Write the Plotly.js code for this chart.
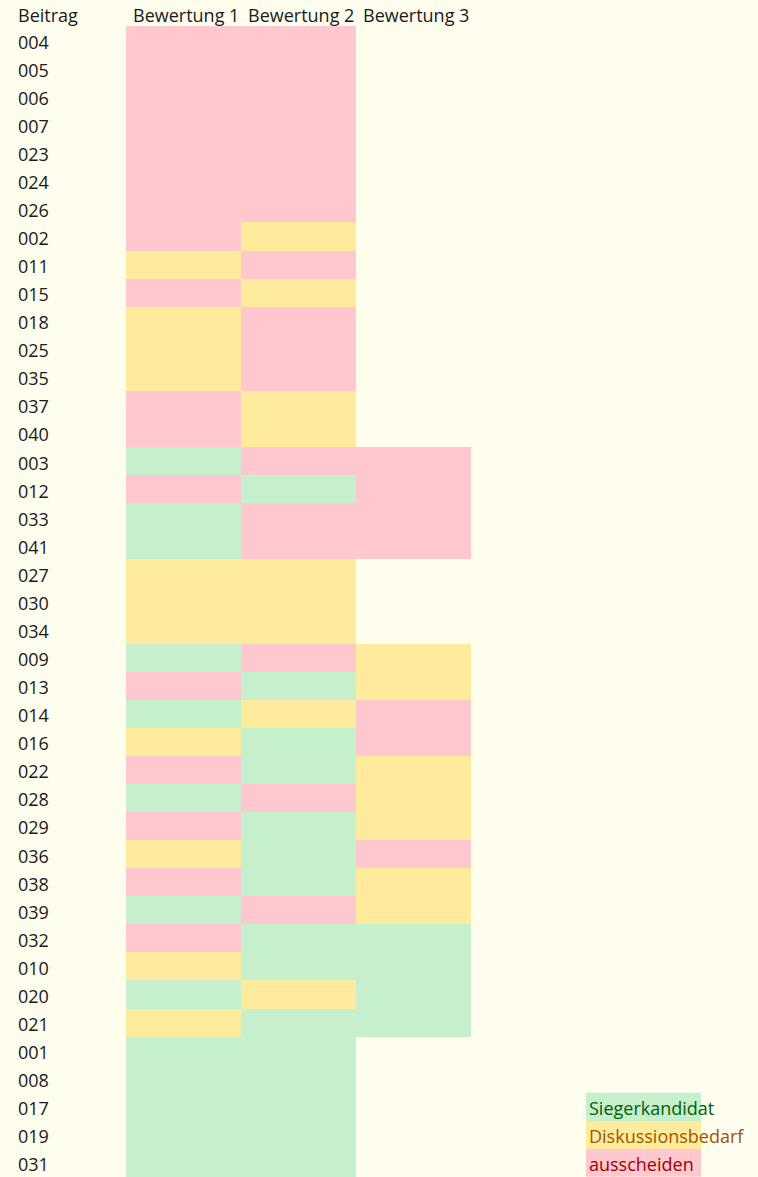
<!DOCTYPE html>
<html>
<head>
<meta charset="utf-8">
<script src="https://cdn.plot.ly/plotly-3.0.1.min.js"></script>
<style>html,body{margin:0;padding:0;background:#fffded;}#chart{width:758px;height:1177px;}</style>
</head>
<body>
<div id="chart"></div>
<script>
const rowHeader = 'Beitrag';
const rows = ['004','005','006','007','023','024','026','002','011','015','018','025','035','037','040',
  '003','012','033','041','027','030','034','009','013','014','016','022','028','029','036','038','039',
  '032','010','020','021','001','008','017','019','031'];
const headers = ['Bewertung 1','Bewertung 2','Bewertung 3'];
// S = Siegerkandidat, D = Diskussionsbedarf, A = ausscheiden, null = leer
const bew1 = ['A','A','A','A','A','A','A','A','D','A','D','D','D','A','A',
  'S','A','S','S','D','D','D','S','A','S','D','A','S','A','D','A','S',
  'A','D','S','D','S','S','S','S','S'];
const bew2 = ['A','A','A','A','A','A','A','D','A','D','A','A','A','D','D',
  'A','S','A','A','D','D','D','A','S','D','S','S','A','S','S','S','A',
  'S','S','D','S','S','S','S','S','S'];
const bew3 = [null,null,null,null,null,null,null,null,null,null,null,null,null,null,null,
  'A','A','A','A',null,null,null,'D','D','A','A','D','D','D','A','D','D',
  'S','S','S','S',null,null,null,null,null];
const legendCodes = ['S','D','A'];
const legendLabels = ['Siegerkandidat','Diskussionsbedarf','ausscheiden'];

const codeVal = {S:0, D:1, A:2};
const fillColors = ['#c6efce','#ffeb9c','#ffc7ce'];
const textColors = ['#006100','#9c5700','#9c0006'];
const colorscale = [[0,fillColors[0]],[0.5,fillColors[1]],[1,fillColors[2]]];

const W = 758, H = 1177, colW = 115, rowH = 28.07, firstColLeft = 126, firstRowCenter = 40;
const x0r = -0.5 - firstColLeft/colW;
const xr = [x0r, x0r + W/colW];
const yTop = -firstRowCenter/rowH;
const yr = [yTop + H/rowH, yTop];

const yIdx = rows.map((r,i)=>i);
const z = rows.map((r,i)=>[bew1[i],bew2[i],bew3[i]].map(c=>c==null?null:codeVal[c]));

const legendCol = 4;
const legendRows = legendCodes.map((c,k)=>rows.length - legendCodes.length + k);

const traces = [{
  type:'heatmap', x:[0,1,2], y:yIdx, z:z,
  colorscale:colorscale, zmin:0, zmax:2, showscale:false, hoverinfo:'skip', xgap:0, ygap:0
},{
  type:'heatmap', x:[legendCol], y:legendRows, z:legendCodes.map(c=>[codeVal[c]]),
  colorscale:colorscale, zmin:0, zmax:2, showscale:false, hoverinfo:'skip'
}];

const font = {family:'Open Sans', size:18, color:'#1a1a1a'};
const ann = [];
ann.push({xref:'paper', x:0, xshift:16, xanchor:'left', yref:'y', y:-1, yshift:-3, yanchor:'middle', text:rowHeader, showarrow:false, font:font});
headers.forEach((h,j)=>ann.push({xref:'x', x:j-0.5, xshift:5, xanchor:'left', yref:'y', y:-1, yshift:-3, yanchor:'middle', text:h, showarrow:false, font:font}));
rows.forEach((r,i)=>ann.push({xref:'paper', x:0, xshift:16, xanchor:'left', yref:'y', y:i, yshift:-1.5, yanchor:'middle', text:r, showarrow:false, font:font}));
legendLabels.forEach((l,k)=>ann.push({xref:'x', x:legendCol-0.5, xshift:1, xanchor:'left', yref:'y', y:legendRows[k], yshift:-1.5, yanchor:'middle', text:l, showarrow:false, font:Object.assign({},font,{color:textColors[codeVal[legendCodes[k]]]})}));

const layout = {
  width:W, height:H, margin:{l:0,r:0,t:0,b:0,pad:0},
  paper_bgcolor:'#fffded', plot_bgcolor:'#fffded',
  xaxis:{range:xr, visible:false, fixedrange:true},
  yaxis:{range:yr, visible:false, fixedrange:true},
  annotations:ann, showlegend:false
};
Plotly.newPlot('chart', traces, layout, {displayModeBar:false, staticPlot:true});
</script>
</body>
</html>
